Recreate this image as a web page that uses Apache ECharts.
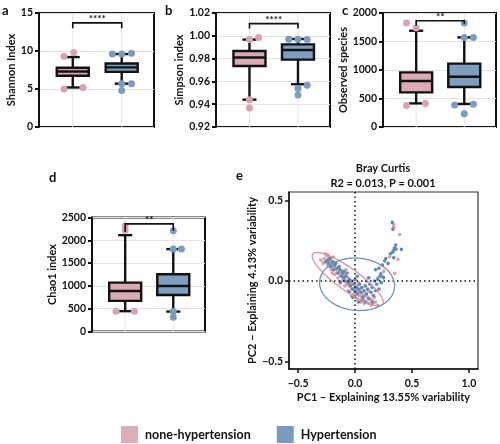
<!DOCTYPE html>
<html><head><meta charset="utf-8">
<script src="https://cdn.jsdelivr.net/npm/echarts@6/dist/echarts.min.js"></script>
<style>html,body{margin:0;padding:0;background:#fff}#c{width:500px;height:444px}</style>
</head><body><div id="c"></div><script>
const groups = ['none-hypertension', 'Hypertension'];
// box stats per group: [lower whisker, Q1, median, Q3, upper whisker]
const shannonBoxes = [[5.2, 6.75, 7.3, 7.8, 9.2], [5.7, 7.25, 7.85, 8.35, 9.6]];
const simpsonBoxes = [[0.944, 0.9735, 0.981, 0.9867, 0.9967], [0.9575, 0.9791, 0.9875, 0.9925, 0.9972]];
const observedBoxes = [[414, 607, 807, 958, 1689], [404, 702, 882, 1111, 1572]];
const chao1Boxes = [[446, 671, 889, 1071, 2113], [437, 802, 999, 1254, 1807]];
// outliers [x position, value] (pink around 0, blue around 1)
const shannonOutPink = [[-0.18, 9.3], [0.02, 9.8], [-0.18, 5.0], [0.21, 5.2]];
const shannonOutBlue = [[0.81, 9.6], [1.0, 9.6], [1.2, 9.7], [1.0, 5.7], [1.2, 5.7], [1.0, 4.8]];
const simpsonOutPink = [[0, 0.9967], [0.19, 0.9984], [0, 0.944], [0, 0.9367]];
const simpsonOutBlue = [[0.81, 0.997], [1.0, 0.997], [1.19, 0.9967], [1.0, 0.9537], [1.19, 0.9566], [1.0, 0.948]];
const observedOutPink = [[-0.2, 1825], [0, 1737], [-0.2, 379], [0.19, 414]];
const observedOutBlue = [[1.0, 1825], [1.0, 1572], [1.19, 1572], [0.8, 385], [1.19, 400], [1.0, 233]];
const chao1OutPink = [[0, 2316], [0, 2222], [-0.19, 446], [0.19, 446]];
const chao1OutBlue = [[1.0, 2207], [1.0, 1807], [1.17, 1807], [1.0, 437], [1.0, 315]];
// significance brackets: [top, left drop, right drop]
const shannonBracket = [13.7, 13.0, 13.0];
const simpsonBracket = [1.0107, 1.0063, 1.0063];
const observedBracket = [1865, 1777, 1812];
const chao1Bracket = [2360, 2180, 2210];
const stars = ['****', '****', '**', '**'];
const yNames = ['Shannon Index', 'Simpson index', 'Observed species', 'Chao1 index'];
const panelLetters = ['a', 'b', 'c', 'd', 'e'];
// PCoA (Bray Curtis)
const pcoaPink = [[-0.26,0.17],[-0.25,0.16],[-0.24,0.165],[-0.23,0.15],[-0.27,0.14],[-0.22,0.13],[-0.25,0.12],[-0.21,0.145],[-0.28,0.11],[-0.2,0.11],[-0.23,0.09],[-0.19,0.12],[-0.18,0.09],[-0.17,0.07],[-0.21,0.07],[-0.15,0.08],[-0.16,0.05],[-0.14,0.06],[-0.13,0.04],[-0.12,0.06],[-0.11,0.03],[-0.15,0.02],[-0.1,0.01],[-0.09,0.04],[-0.08,0.0],[-0.12,0.0],[-0.07,-0.02],[-0.06,0.02],[-0.05,-0.03],[-0.09,-0.03],[-0.04,-0.01],[-0.03,-0.05],[-0.02,-0.02],[-0.06,-0.06],[0.0,-0.04],[0.01,-0.07],[0.02,-0.03],[-0.01,-0.08],[0.03,-0.06],[0.04,-0.09],[0.05,-0.05],[0.02,-0.11],[0.06,-0.1],[0.07,-0.08],[0.08,-0.12],[0.09,-0.09],[0.1,-0.13],[0.11,-0.1],[0.12,-0.14],[0.13,-0.11],[0.14,-0.15],[0.15,-0.12],[0.16,-0.14],[0.18,-0.13],[0.2,-0.15],[0.05,-0.13],[0.0,-0.1],[-0.03,-0.09],[-0.18,0.04],[-0.2,0.05],[-0.24,0.1],[-0.3,0.13],[-0.19,0.15],[-0.08,0.07],[0.03,-0.01],[0.12,-0.06],[0.17,-0.1],[0.08,-0.14],[0.34,0.348],[0.34,0.334],[0.392,0.29],[0.304,0.151],[0.377,0.135],[0.348,0.048],[0.25,0.06],[0.2,0.02]];
const pcoaBlue = [[-0.22,0.14],[-0.2,0.12],[-0.23,0.11],[-0.18,0.1],[-0.21,0.09],[-0.17,0.11],[-0.19,0.07],[-0.16,0.08],[-0.14,0.09],[-0.15,0.05],[-0.13,0.07],[-0.12,0.03],[-0.11,0.05],[-0.1,0.06],[-0.1,0.02],[-0.09,0.0],[-0.08,0.03],[-0.07,0.05],[-0.06,-0.01],[-0.05,0.01],[-0.04,-0.03],[-0.03,0.0],[-0.02,-0.05],[-0.01,-0.02],[0.0,-0.06],[0.0,0.01],[0.01,-0.04],[0.02,-0.08],[0.03,-0.05],[0.04,-0.02],[0.05,-0.07],[0.06,-0.04],[0.07,-0.1],[0.08,-0.06],[0.09,-0.03],[0.1,-0.08],[0.11,-0.05],[0.12,-0.11],[0.13,-0.02],[0.14,-0.07],[0.15,-0.04],[0.16,-0.09],[0.17,0.0],[0.18,-0.06],[0.19,-0.02],[0.2,0.01],[0.21,-0.05],[0.22,0.03],[0.23,-0.01],[0.25,0.02],[0.1,0.0],[0.12,0.02],[0.06,-0.12],[0.03,-0.13],[0.09,-0.13],[-0.02,-0.1],[-0.05,-0.07],[-0.24,0.13],[-0.26,0.12],[0.15,-0.13],[0.02,0.03],[-0.13,-0.01],[0.328,0.365],[0.333,0.322],[0.357,0.224],[0.345,0.205],[0.36,0.2],[0.407,0.197],[0.33,0.18],[0.34,0.19],[0.31,0.17],[0.34,0.145],[0.27,0.14],[0.26,0.125],[0.29,0.11],[0.24,0.1],[0.21,0.08],[0.18,0.07],[0.226,0.045],[0.247,0.025]];
// confidence ellipses: [cx, cy, major half-vector x, y, minor half-vector x, y]
const ellipsePink = [-0.064, 0.012, 0.307, -0.156, 0.056, 0.056];
const ellipseBlue = [0.018, -0.020, 0.329, -0.019, 0.018, 0.162];
const pcoaTitle = ['Bray Curtis', 'R2 = 0.013, P = 0.001'];
const pcoaXName = 'PC1 \u2212 Explaining 13.55% variability';
const pcoaYName = 'PC2 \u2212 Explaining 4.13% variability';
const pcoaTicks = [-0.5, 0, 0.5, 1.0];
const pcoaYTicks = [-0.5, 0, 0.5];

const FONT = 'Lato, "Liberation Sans", sans-serif';
const boxFill = ['#dcaab4', '#7e9ec0'];
const dotCol = ['#d7a3ad', '#7b9cbf'];
const pcoaCol = ['#d99fab', '#5f88b2'];

const chart = echarts.init(document.getElementById('c'));

function renderBox(params, api) {
  const i = api.value(0);
  const cs = params.coordSys;
  const pLo = api.coord([i, api.value(1)]), pQ1 = api.coord([i, api.value(2)]),
        pMed = api.coord([i, api.value(3)]), pQ3 = api.coord([i, api.value(4)]),
        pHi = api.coord([i, api.value(5)]);
  const x = pMed[0], bw = 32, cw = 14, lw = 2.4, stroke = '#111';
  return {type: 'group', children: [
    {type: 'line', shape: {x1: x, y1: cs.y, x2: x, y2: cs.y + cs.height}, style: {stroke: '#e4e4e4', lineWidth: 1}},
    {type: 'line', shape: {x1: x, y1: pHi[1], x2: x, y2: pQ3[1]}, style: {stroke, lineWidth: lw}},
    {type: 'line', shape: {x1: x, y1: pQ1[1], x2: x, y2: pLo[1]}, style: {stroke, lineWidth: lw}},
    {type: 'line', shape: {x1: x - cw / 2, y1: pHi[1], x2: x + cw / 2, y2: pHi[1]}, style: {stroke, lineWidth: lw}},
    {type: 'line', shape: {x1: x - cw / 2, y1: pLo[1], x2: x + cw / 2, y2: pLo[1]}, style: {stroke, lineWidth: lw}},
    {type: 'rect', shape: {x: x - bw / 2, y: pQ3[1], width: bw, height: pQ1[1] - pQ3[1]}, style: {fill: boxFill[params.dataIndex], stroke, lineWidth: lw}},
    {type: 'line', shape: {x1: x - bw / 2, y1: pMed[1], x2: x + bw / 2, y2: pMed[1]}, style: {stroke, lineWidth: lw}}
  ]};
}
function makeBracketRender(label) {
  return function (params, api) {
    const pTop0 = api.coord([0, api.value(0)]), pTop1 = api.coord([1, api.value(0)]);
    const pL = api.coord([0, api.value(1)]), pR = api.coord([1, api.value(2)]);
    return {type: 'group', children: [
      {type: 'polyline', shape: {points: [pL, pTop0, pTop1, pR]}, style: {stroke: '#111', lineWidth: 1.6, fill: null}},
      {type: 'text', style: {text: label, x: (pTop0[0] + pTop1[0]) / 2, y: pTop0[1] + 1, align: 'center', verticalAlign: 'bottom', font: 'bold 10px ' + FONT, fill: '#111'}}
    ]};
  };
}
function renderEllipse(params, api) {
  const cx = api.value(0), cy = api.value(1), ax = api.value(2), ay = api.value(3), bx = api.value(4), by = api.value(5);
  const pts = [];
  for (let k = 0; k <= 90; k++) {
    const t = k / 90 * 2 * Math.PI;
    pts.push(api.coord([cx + Math.cos(t) * ax + Math.sin(t) * bx, cy + Math.cos(t) * ay + Math.sin(t) * by]));
  }
  return {type: 'polyline', shape: {points: pts}, style: {stroke: params.dataIndex === 0 ? '#d494a2' : '#6e93b9', lineWidth: 1.3, fill: null}};
}

const boxGrids = [
  {left: 39, top: 13, width: 115, height: 114},
  {left: 216, top: 13, width: 114, height: 114},
  {left: 383, top: 13, width: 113, height: 114},
  {left: 92, top: 217.5, width: 113, height: 114}
];
const boxY = [
  {min: 0, max: 15, interval: 5, dec: 0, gap: 18},
  {min: 0.92, max: 1.02, interval: 0.02, dec: 2, gap: 28},
  {min: 0, max: 2000, interval: 500, dec: 0, gap: 29},
  {min: 0, max: 2500, interval: 500, dec: 0, gap: 33}
];
const boxData = [shannonBoxes, simpsonBoxes, observedBoxes, chao1Boxes];
const outPink = [shannonOutPink, simpsonOutPink, observedOutPink, chao1OutPink];
const outBlue = [shannonOutBlue, simpsonOutBlue, observedOutBlue, chao1OutBlue];
const brackets = [shannonBracket, simpsonBracket, observedBracket, chao1Bracket];

const grid = [], xAxis = [], yAxis = [], series = [];
const labelStyle = {color: '#111', fontWeight: 'bold', fontSize: 10.5, fontFamily: FONT};
for (let p = 0; p < 4; p++) {
  grid.push(Object.assign({show: true, borderColor: '#111', borderWidth: 2, backgroundColor: 'transparent'}, boxGrids[p]));
  xAxis.push({gridIndex: p, type: 'value', min: -0.69, max: 1.66, show: false,
    axisLine: {show: false, onZero: false}, splitLine: {show: false}});
  const yc = boxY[p];
  yAxis.push({gridIndex: p, type: 'value', min: yc.min, max: yc.max, interval: yc.interval,
    name: yNames[p], nameLocation: 'middle', nameGap: yc.gap,
    nameTextStyle: {color: '#111', fontWeight: 'bold', fontSize: 11, fontFamily: FONT},
    axisLine: {show: true, onZero: false, lineStyle: {color: '#111', width: 2}},
    axisTick: {show: true, length: 4, lineStyle: {color: '#111', width: 2}},
    axisLabel: Object.assign({margin: 6, formatter: v => v.toFixed(yc.dec)}, labelStyle),
    splitLine: {show: true, lineStyle: {color: '#e4e4e4', width: 1}}});
  series.push({type: 'custom', xAxisIndex: p, yAxisIndex: p, z: 3, renderItem: renderBox,
    data: boxData[p].map((b, i) => [i].concat(b))});
  series.push({type: 'scatter', name: 'out-p' + p, xAxisIndex: p, yAxisIndex: p, z: 4, symbolSize: 7,
    itemStyle: {color: dotCol[0], opacity: 1}, data: outPink[p]});
  series.push({type: 'scatter', name: 'out-b' + p, xAxisIndex: p, yAxisIndex: p, z: 4, symbolSize: 7,
    itemStyle: {color: dotCol[1], opacity: 1}, data: outBlue[p]});
  series.push({type: 'custom', xAxisIndex: p, yAxisIndex: p, z: 5, renderItem: makeBracketRender(stars[p]),
    data: [brackets[p]]});
}
// panel e
grid.push({show: true, left: 289, top: 192, width: 189, height: 177, borderColor: '#333', borderWidth: 1.2, backgroundColor: 'transparent'});
xAxis.push({gridIndex: 4, type: 'value', min: -0.58, max: 1.08,
  name: pcoaXName, nameLocation: 'middle', nameGap: 23,
  nameTextStyle: {color: '#111', fontWeight: 'bold', fontSize: 11, fontFamily: FONT},
  axisLine: {show: true, onZero: false, lineStyle: {color: '#111', width: 1.5}},
  axisTick: {show: true, length: 4, customValues: pcoaTicks, lineStyle: {color: '#111', width: 1.5}},
  axisLabel: Object.assign({margin: 9, customValues: pcoaTicks, formatter: v => v.toFixed(1).replace('-', '\u2212')}, labelStyle),
  splitLine: {show: false}});
yAxis.push({gridIndex: 4, type: 'value', min: -0.547, max: 0.554,
  name: pcoaYName, nameLocation: 'middle', nameGap: 25,
  nameTextStyle: {color: '#111', fontWeight: 'bold', fontSize: 11, fontFamily: FONT},
  axisLine: {show: true, onZero: false, lineStyle: {color: '#111', width: 1.5}},
  axisTick: {show: true, length: 4, customValues: pcoaYTicks, lineStyle: {color: '#111', width: 1.5}},
  axisLabel: Object.assign({margin: 6, customValues: pcoaYTicks, formatter: v => v.toFixed(1).replace('-', '\u2212')}, labelStyle),
  splitLine: {show: false}});
series.push({type: 'scatter', name: groups[0], xAxisIndex: 4, yAxisIndex: 4, z: 3, symbolSize: 3.6,
  itemStyle: {color: pcoaCol[0], opacity: 1}, data: pcoaPink,
  markLine: {silent: true, symbol: 'none', label: {show: false},
    lineStyle: {color: '#111', type: [1.5, 3], width: 1.5}, data: [{xAxis: 0}, {yAxis: 0}]}});
series.push({type: 'scatter', name: groups[1], xAxisIndex: 4, yAxisIndex: 4, z: 4, symbolSize: 3.6,
  itemStyle: {color: pcoaCol[1], opacity: 1}, data: pcoaBlue});
series.push({type: 'custom', xAxisIndex: 4, yAxisIndex: 4, z: 5, renderItem: renderEllipse,
  data: [ellipsePink, ellipseBlue]});

const letterPos = [[2, 4], [165, 4], [342, 4], [49, 171], [236, 169]];
const graphic = letterPos.map((p, i) => ({type: 'text', left: p[0], top: p[1],
  style: {text: panelLetters[i], font: 'bold 13px ' + FONT, fill: '#111'}}));
graphic.push({type: 'text', x: 383, y: 168, style: {text: pcoaTitle[0], align: 'center', verticalAlign: 'middle', font: 'bold 11px ' + FONT, fill: '#111'}});
graphic.push({type: 'text', x: 383, y: 183, style: {text: pcoaTitle[1], align: 'center', verticalAlign: 'middle', font: 'bold 11px ' + FONT, fill: '#111'}});

chart.setOption({
  animation: false,
  textStyle: {fontFamily: FONT},
  grid, xAxis, yAxis, series, graphic,
  legend: {left: 121, top: 426, padding: 0, itemWidth: 17, itemHeight: 17, itemGap: 26, selectedMode: false,
    textStyle: {color: '#111', fontWeight: 'bold', fontSize: 12.5, fontFamily: FONT, padding: [0, 0, 0, 2]},
    data: [{name: groups[0], icon: 'rect', itemStyle: {color: '#dbafb8'}},
           {name: groups[1], icon: 'rect', itemStyle: {color: '#7b9bba'}}]}
});
</script></body></html>
